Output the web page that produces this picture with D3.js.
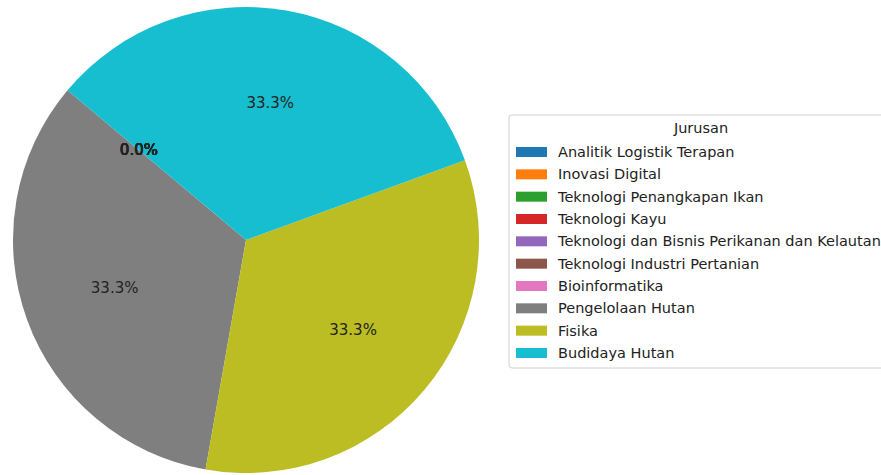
<!DOCTYPE html>
<html>
<head>
<meta charset="utf-8">
<script src="https://cdn.jsdelivr.net/npm/d3@7"></script>
<style>
	body { margin: 0; background: #fff; }
	text { font-family: "DejaVu Sans", sans-serif; }
</style>
</head>
<body>
<script>
	// Data
	var categories = ["Analitik Logistik Terapan", "Inovasi Digital", "Teknologi Penangkapan Ikan",
		"Teknologi Kayu", "Teknologi dan Bisnis Perikanan dan Kelautan", "Teknologi Industri Pertanian",
		"Bioinformatika", "Pengelolaan Hutan", "Fisika", "Budidaya Hutan"];
	var counts = [0, 0, 0, 0, 0, 0, 0, 1, 1, 1];
	var colors = ["#1f77b4", "#ff7f0e", "#2ca02c", "#d62728", "#9467bd",
		"#8c564b", "#e377c2", "#7f7f7f", "#bcbd22", "#17becf"];
	var legendTitle = "Jurusan";

	var w = 881;
	var h = 475;
	var cx = 246, cy = 240, r = 233;

	var dataset = categories.map(function (c, i) {
		return {name: c, value: counts[i], color: colors[i]};
	});
	var total = d3.sum(counts);

	var svg = d3.select("body").
	append("svg").
	attr("width", w).
	attr("height", h);

	// matplotlib startangle=140, counterclockwise
	var start = (90 - 140) * Math.PI / 180;
	var pie = d3.pie().
	sort(null).
	value(function (d) {return d.value;}).
	startAngle(start).
	endAngle(start - 2 * Math.PI);

	var arc = d3.arc().innerRadius(0).outerRadius(r);
	var labelArc = d3.arc().innerRadius(r * 0.6).outerRadius(r * 0.6);

	var g = svg.append("g").
	attr("transform", "translate(" + cx + "," + cy + ")");

	var arcs = pie(dataset);

	g.selectAll("path").
	data(arcs).
	enter().
	append("path").
	attr("d", arc).
	attr("fill", function (d) {return d.data.color;});

	g.selectAll("text").
	data(arcs).
	enter().
	append("text").
	attr("transform", function (d) {return "translate(" + labelArc.centroid(d) + ")";}).
	attr("text-anchor", "middle").
	attr("dy", "0.35em").
	style("font-size", "15px").
	attr("fill", "#222").
	text(function (d) {return (d.data.value / total * 100).toFixed(1) + "%";});

	// Legend
	var lx = 509, ly = 115, lw = 390, lh = 253;
	var legend = svg.append("g");

	legend.append("rect").
	attr("x", lx).
	attr("y", ly).
	attr("width", lw).
	attr("height", lh).
	attr("rx", 3).
	attr("fill", "#fff").
	attr("stroke", "#d0d0d0");

	legend.append("text").
	attr("x", 701).
	attr("y", 128).
	attr("dy", "0.35em").
	attr("text-anchor", "middle").
	style("font-size", "14.5px").
	attr("fill", "#222").
	text(legendTitle);

	var rowY = d3.scaleLinear().domain([0, categories.length - 1]).range([152, 353]);

	var items = legend.selectAll(".item").
	data(dataset).
	enter().
	append("g").
	attr("class", "item").
	attr("transform", function (d, i) {return "translate(0," + rowY(i) + ")";});

	items.append("rect").
	attr("x", 516).
	attr("y", -5).
	attr("width", 31).
	attr("height", 10).
	attr("fill", function (d) {return d.color;});

	items.append("text").
	attr("x", 558).
	attr("dy", "0.35em").
	style("font-size", "14.5px").
	attr("fill", "#222").
	text(function (d) {return d.name;});
</script>
</body>
</html>
